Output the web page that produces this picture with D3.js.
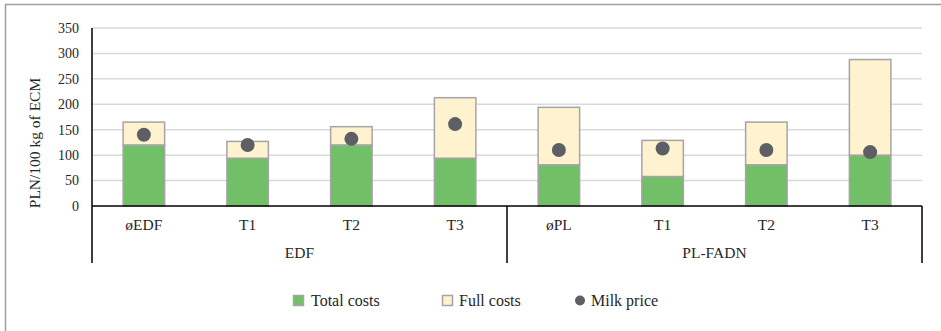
<!DOCTYPE html>
<html>
<head>
<meta charset="utf-8">
<script src="https://cdn.jsdelivr.net/npm/d3@7"></script>
<style>
  body { margin: 0; background: #fff; }
  text { font-family: "Liberation Serif", "Times New Roman", serif; fill: #262626; }
</style>
</head>
<body>
<div id="chart"></div>
<script>
var width = 941;
var height = 331;

// data
var categories = ["øEDF", "T1", "T2", "T3", "øPL", "T1", "T2", "T3"];
var groups = ["EDF", "EDF", "EDF", "EDF", "PL-FADN", "PL-FADN", "PL-FADN", "PL-FADN"];
var totalCosts = [120, 94, 120, 94, 81, 58, 81, 100];
var fullCosts = [165, 127, 156, 213, 194, 129, 165, 288];
var milkPrice = [140, 120, 132, 161, 110, 113, 110, 106];
var yTicks = [0, 50, 100, 150, 200, 250, 300, 350];

var plotLeft = 92, plotRight = 922, plotTop = 28, plotBottom = 206;

var svg = d3.select("#chart")
  .append("svg")
  .attr("width", width)
  .attr("height", height);

// outer frame (right/bottom fall outside the window)
svg.append("path")
  .attr("d", "M5.5," + height + "V4.5H" + width)
  .attr("fill", "none")
  .attr("stroke", "#a0a0a0")
  .attr("stroke-width", 1.5);

var x = d3.scaleBand().domain(d3.range(categories.length)).range([plotLeft, plotRight]).paddingInner(0.6).paddingOuter(0.3);
var y = d3.scaleLinear().domain([0, 350]).range([plotBottom, plotTop]);

// gridlines
svg.append("g")
  .selectAll("line")
  .data(yTicks.slice(1))
  .enter().append("line")
  .attr("x1", plotLeft).attr("x2", plotRight)
  .attr("y1", d => y(d)).attr("y2", d => y(d))
  .attr("stroke", "#d9d9d9")
  .attr("stroke-width", 1.5);

// y tick labels
svg.append("g")
  .selectAll("text")
  .data(yTicks)
  .enter().append("text")
  .attr("x", 79)
  .attr("y", d => y(d))
  .attr("dy", "0.35em")
  .attr("text-anchor", "end")
  .style("font-size", "14px")
  .text(d => d);

svg.append("text")
  .attr("transform", "translate(40,143) rotate(-90)")
  .attr("text-anchor", "middle")
  .style("font-size", "15.5px")
  .text("PLN/100 kg of ECM");

// stacked bars
var rows = categories.map(function(c, i) {
  return { total: totalCosts[i], extra: fullCosts[i] - totalCosts[i] };
});
var stack = d3.stack().keys(["total", "extra"])(rows);
var fills = { total: "#71bf66", extra: "#fff2cf" };

svg.append("g")
  .selectAll("g")
  .data(stack)
  .enter().append("g")
  .attr("fill", d => fills[d.key])
  .selectAll("rect")
  .data(d => d)
  .enter().append("rect")
  .attr("x", (d, i) => x(i))
  .attr("width", x.bandwidth())
  .attr("y", d => y(d[1]))
  .attr("height", d => y(d[0]) - y(d[1]))
  .attr("stroke", "#a5a5a5")
  .attr("stroke-width", 1.5);

// milk price dots
svg.append("g")
  .selectAll("circle")
  .data(milkPrice)
  .enter().append("circle")
  .attr("cx", (d, i) => x(i) + x.bandwidth() / 2)
  .attr("cy", d => y(d))
  .attr("r", 7)
  .attr("fill", "#5d5f64");

// axes
var step = (plotRight - plotLeft) / categories.length;
var axis = svg.append("g").attr("stroke", "#000").attr("stroke-width", 1.5);
axis.append("line").attr("x1", plotLeft).attr("x2", plotLeft).attr("y1", plotTop).attr("y2", 263);
axis.append("line").attr("x1", plotLeft).attr("x2", plotRight).attr("y1", plotBottom).attr("y2", plotBottom);
axis.append("line").attr("x1", plotLeft + step * 4).attr("x2", plotLeft + step * 4).attr("y1", plotBottom).attr("y2", 263);
axis.append("line").attr("x1", plotRight).attr("x2", plotRight).attr("y1", plotBottom).attr("y2", 263);

svg.append("g")
  .selectAll("text")
  .data(categories)
  .enter().append("text")
  .attr("x", (d, i) => x(i) + x.bandwidth() / 2)
  .attr("y", 230)
  .attr("text-anchor", "middle")
  .style("font-size", "15.5px")
  .text(d => d);

var groupNames = Array.from(new Set(groups));
svg.append("g")
  .selectAll("text")
  .data(groupNames)
  .enter().append("text")
  .attr("x", function(g) {
    var idx = d3.range(groups.length).filter(i => groups[i] === g);
    return plotLeft + step * (d3.min(idx) + d3.max(idx) + 1) / 2;
  })
  .attr("y", 258)
  .attr("text-anchor", "middle")
  .style("font-size", "15.5px")
  .text(d => d);

// legend
var legend = svg.append("g").style("font-size", "16px");
legend.append("rect").attr("x", 293.5).attr("y", 295.5).attr("width", 10).attr("height", 10)
  .attr("fill", fills.total).attr("stroke", "#a5a5a5").attr("stroke-width", 1.5);
legend.append("text").attr("x", 311).attr("y", 306).text("Total costs");
legend.append("rect").attr("x", 442.5).attr("y", 295.5).attr("width", 10).attr("height", 10)
  .attr("fill", fills.extra).attr("stroke", "#a5a5a5").attr("stroke-width", 1.5);
legend.append("text").attr("x", 459).attr("y", 306).text("Full costs");
legend.append("circle").attr("cx", 580).attr("cy", 300.5).attr("r", 5).attr("fill", "#5d5f64");
legend.append("text").attr("x", 591).attr("y", 306).text("Milk price");
</script>
</body>
</html>
